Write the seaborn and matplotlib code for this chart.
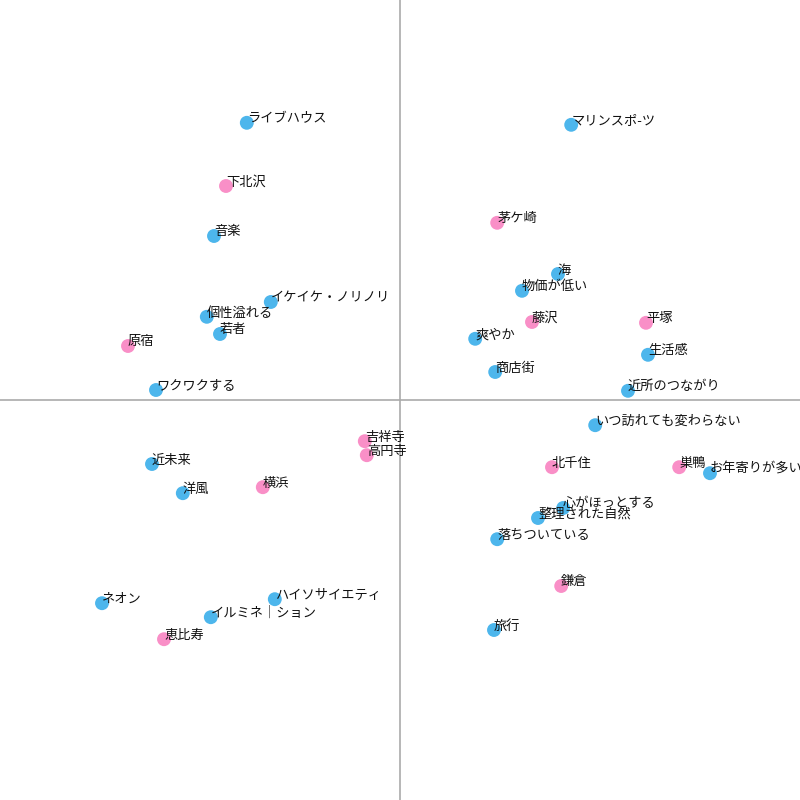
import pandas as pd
import seaborn as sns
import matplotlib.pyplot as plt

# 属性 (blue) と 地名 (pink) の布置
attr_labels = ['ライブハウス', 'マリンスポ-ツ', '音楽', '海', '物価が低い', 'イケイケ・ノリノリ',
               '個性溢れる', '若者', '爽やか', '生活感', '商店街', 'ワクワクする',
               '近所のつながり', 'いつ訪れても変わらない', '近未来', 'お年寄りが多い', '洋風',
               '心がほっとする', '整理された自然', '落ちついている', 'ネオン', 'ハイソサイエティ',
               'イルミネ｜ション', '旅行']
attr_x = [-0.383, 0.428, -0.465, 0.395, 0.305, -0.323, -0.483, -0.450, 0.188, 0.620, 0.238, -0.610,
          0.570, 0.488, -0.620, 0.775, -0.543, 0.408, 0.345, 0.243, -0.745, -0.313, -0.473, 0.235]
attr_y = [0.693, 0.688, 0.410, 0.315, 0.273, 0.245, 0.208, 0.165, 0.153, 0.113, 0.070, 0.025,
          0.023, -0.063, -0.160, -0.183, -0.233, -0.270, -0.295, -0.348, -0.508, -0.498, -0.543, -0.575]

place_labels = ['下北沢', '茅ケ崎', '藤沢', '平塚', '原宿', '吉祥寺', '高円寺', '北千住', '巣鴨',
                '横浜', '鎌倉', '恵比寿']
place_x = [-0.435, 0.243, 0.330, 0.615, -0.680, -0.088, -0.083, 0.380, 0.698, -0.343, 0.403, -0.590]
place_y = [0.535, 0.443, 0.195, 0.193, 0.135, -0.103, -0.138, -0.168, -0.168, -0.218, -0.465, -0.598]

df = pd.DataFrame({
    'x': attr_x + place_x,
    'y': attr_y + place_y,
    'label': attr_labels + place_labels,
    'kind': ['attr'] * len(attr_labels) + ['place'] * len(place_labels),
})

sns.set_style('white')
plt.rcParams['font.family'] = ['Noto Sans CJK JP', 'DejaVu Sans']

fig = plt.figure(figsize=(8, 8), dpi=100)
ax = fig.add_axes([0, 0, 1, 1])
ax.axhline(0, color='#aaaaaa', lw=1.2, zorder=0)
ax.axvline(0, color='#aaaaaa', lw=1.2, zorder=0)

sns.scatterplot(data=df, x='x', y='y', hue='kind',
                palette={'attr': '#4db6ec', 'place': '#f98fc7'},
                s=100, linewidth=0, legend=False, ax=ax, zorder=2)

for _, r in df.iterrows():
    ax.annotate(r['label'], (r['x'], r['y']), xytext=(0, 4), textcoords='offset pixels',
                ha='left', va='center', fontsize=9.5, color='#111111', zorder=3)

ax.set_xlim(-1, 1)
ax.set_ylim(-1, 1)
ax.axis('off')

plt.savefig('out.png', dpi=100)
